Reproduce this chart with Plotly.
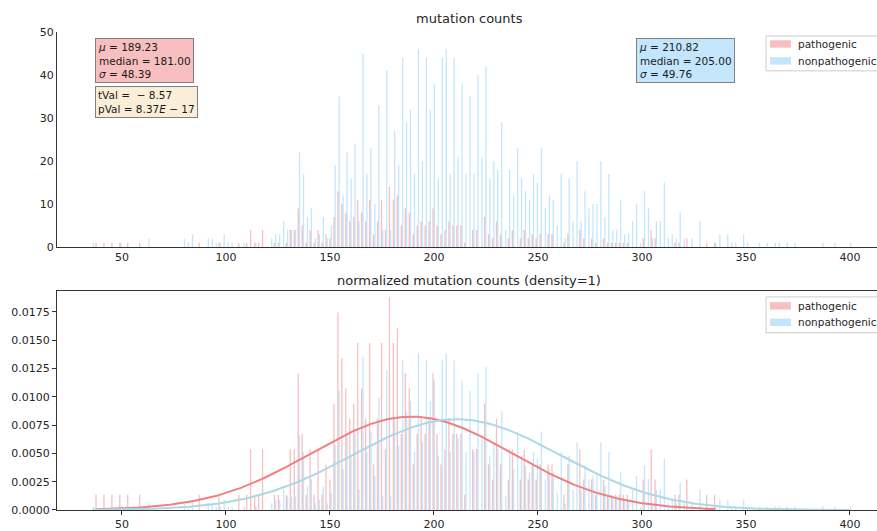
import numpy as np
import plotly.graph_objects as go

# ---------------- data ----------------
# histogram bins (192 bins over the mutation-count range)
bin_edges = np.linspace(35.0, 401.0, 193)

pathogenic_counts = [
    0, 1, 0, 1, 0, 1, 0, 1, 0, 1,
    0, 0, 1, 0, 0, 0, 0, 0, 0, 0,
    0, 0, 0, 0, 0, 0, 0, 1, 0, 0,
    0, 0, 1, 0, 0, 0, 0, 1, 0, 1,
    4, 1, 1, 4, 0, 0, 1, 1, 0, 1,
    4, 4, 9, 5, 1, 4, 1, 4, 1, 3,
    2, 7, 13, 10, 8, 6, 7, 11, 8, 6,
    11, 3, 6, 11, 4, 14, 11, 12, 5, 9,
    8, 3, 5, 6, 5, 6, 9, 5, 3, 4,
    6, 5, 5, 5, 1, 0, 4, 4, 0, 7,
    3, 2, 6, 3, 0, 2, 4, 0, 2, 4,
    2, 3, 2, 3, 0, 3, 3, 0, 0, 1,
    3, 0, 0, 4, 2, 0, 2, 1, 0, 2,
    1, 1, 1, 1, 1, 1, 0, 0, 0, 2,
    0, 4, 2, 0, 0, 0, 0, 1, 1, 0,
    2, 0, 0, 0, 0, 1, 0, 1, 0, 0,
    0, 0, 0, 0, 0, 0, 0, 0, 0, 0,
    0, 0, 0, 0, 0, 0, 0, 0, 0, 0,
    0, 0, 0, 0, 0, 0, 0, 0, 0, 0,
    0, 0,
]

nonpathogenic_counts = [
    1, 0, 0, 0, 0, 0, 0, 1, 0, 0,
    0, 0, 0, 0, 2, 0, 0, 0, 0, 0,
    0, 0, 0, 2, 1, 3, 0, 0, 0, 2,
    2, 1, 1, 3, 1, 1, 0, 0, 1, 0,
    0, 1, 0, 0, 0, 2, 3, 3, 6, 4,
    4, 4, 22, 17, 7, 9, 2, 3, 7, 2,
    5, 19, 35, 12, 22, 16, 24, 6, 45, 17,
    23, 10, 33, 4, 41, 4, 27, 19, 44, 29,
    32, 17, 46, 20, 44, 32, 38, 16, 44, 46,
    17, 44, 21, 38, 17, 35, 17, 40, 21, 42,
    16, 20, 18, 29, 4, 18, 12, 23, 16, 13,
    11, 17, 15, 23, 9, 12, 11, 5, 17, 2,
    16, 6, 20, 6, 13, 9, 10, 10, 20, 7,
    17, 4, 4, 11, 3, 3, 6, 10, 1, 13,
    9, 2, 6, 6, 15, 2, 3, 2, 8, 2,
    0, 2, 0, 6, 0, 0, 0, 1, 3, 0,
    3, 1, 1, 0, 3, 1, 0, 0, 1, 0,
    1, 0, 1, 1, 0, 1, 0, 1, 0, 0,
    0, 0, 0, 0, 1, 0, 0, 1, 0, 0,
    0, 1,
]

series_names = ["pathogenic", "nonpathogenic"]
path_stats = {"mu": 189.23, "median": 181.00, "sigma": 48.39}
nonpath_stats = {"mu": 210.82, "median": 205.00, "sigma": 49.76}
t_val = -8.57
p_val_mantissa, p_val_exp = 8.37, -17

x_ticks = [50, 100, 150, 200, 250, 300, 350, 400]
y_ticks_top = [0, 10, 20, 30, 40, 50]
y_ticks_bottom = [0.0, 0.0025, 0.005, 0.0075, 0.01, 0.0125, 0.015, 0.0175]

# ---------------- derived ----------------
centers = 0.5 * (bin_edges[:-1] + bin_edges[1:])
bw = bin_edges[1] - bin_edges[0]
path = np.array(pathogenic_counts, dtype=float)
nonpath = np.array(nonpathogenic_counts, dtype=float)
path_dens = path / (path.sum() * bw)
nonpath_dens = nonpath / (nonpath.sum() * bw)


def fit_curve(counts, mu, sigma):
    nz = np.nonzero(counts)[0]
    xs = np.linspace(centers[nz[0]], centers[nz[-1]], 300)
    ys = np.exp(-0.5 * ((xs - mu) / sigma) ** 2) / (sigma * np.sqrt(2 * np.pi))
    return xs, ys


px_, py_ = fit_curve(path, path_stats["mu"], path_stats["sigma"])
nx_, ny_ = fit_curve(nonpath, nonpath_stats["mu"], nonpath_stats["sigma"])

C_PATH = "rgba(240,128,128,0.5)"
C_NON = "rgba(135,206,250,0.5)"
FONT = "DejaVu Sans"
TXT = "#262626"

# figure geometry (pixels) used to convert to paper coordinates
W, H = 877, 531
ML, MR, MT, MB = 57, 0, 32, 19
PW, PH = W - ML - MR, H - MT - MB


def pxx(p):
    return (p - ML) / PW


def pxy(p):
    return (H - MB - p) / PH


fig = go.Figure()
fig.add_trace(go.Bar(x=centers, y=path, name=series_names[0], marker_color=C_PATH,
                     marker_line_width=0, xaxis="x", yaxis="y"))
fig.add_trace(go.Bar(x=centers, y=nonpath, name=series_names[1], marker_color=C_NON,
                     marker_line_width=0, xaxis="x", yaxis="y"))
fig.add_trace(go.Bar(x=centers, y=path_dens, name=series_names[0], marker_color=C_PATH,
                     marker_line_width=0, xaxis="x2", yaxis="y2"))
fig.add_trace(go.Bar(x=centers, y=nonpath_dens, name=series_names[1], marker_color=C_NON,
                     marker_line_width=0, xaxis="x2", yaxis="y2"))
fig.add_trace(go.Scatter(x=px_, y=py_, mode="lines", line=dict(color="#f08080", width=2),
                         xaxis="x2", yaxis="y2", hoverinfo="skip"))
fig.add_trace(go.Scatter(x=nx_, y=ny_, mode="lines", line=dict(color="#add8e6", width=2),
                         xaxis="x2", yaxis="y2", hoverinfo="skip"))

XR = [18.8, 413.0]
axis_common = dict(showgrid=False, zeroline=False, linecolor="#333333", linewidth=1,
                   tickfont=dict(family=FONT, size=11, color=TXT))

fig.update_layout(
    width=W, height=H,
    margin=dict(l=ML, r=MR, t=MT, b=MB),
    paper_bgcolor="white", plot_bgcolor="white",
    barmode="group", bargap=0.35, bargroupgap=0.0,
    font=dict(family=FONT, size=11, color=TXT),
    showlegend=False,
    xaxis=dict(domain=[0, 1], range=XR, anchor="y", tickvals=x_ticks, showline=True,
               ticks="", **axis_common),
    yaxis=dict(domain=[pxy(248), 1.0], range=[0, 50], anchor="x", tickvals=y_ticks_top,
               showline=True, ticks="", **axis_common),
    xaxis2=dict(domain=[0, 1], range=XR, anchor="y2", tickvals=x_ticks, showline=True,
                mirror=True, ticks="outside", ticklen=4, tickcolor="#333333", **axis_common),
    yaxis2=dict(domain=[0, pxy(292)], range=[0, 0.01935], anchor="x2", tickvals=y_ticks_bottom,
                tickformat=".4f", showline=True, ticks="outside", ticklen=4,
                tickcolor="#333333", **axis_common),
)

ann_font = dict(family=FONT, size=10.5, color="#1a1a1a")
fig.add_annotation(
    x=37.0, y=48.6, xref="x", yref="y", xanchor="left", yanchor="top", align="left",
    text=(f"<i>μ</i> = {path_stats['mu']:.2f}<br>median = {path_stats['median']:.2f}"
          f"<br><i>σ</i> = {path_stats['sigma']:.2f}"),
    showarrow=False, bgcolor="rgba(240,128,128,0.5)", bordercolor="#808080",
    borderwidth=1, borderpad=2, font=ann_font)
fig.add_annotation(
    x=37.0, y=37.4, xref="x", yref="y", xanchor="left", yanchor="top", align="left",
    text=(f"tVal =  − {abs(t_val):.2f}<br>pVal = {p_val_mantissa:.2f}<i>E</i> − {abs(p_val_exp)}"),
    showarrow=False, bgcolor="rgba(245,222,179,0.5)", bordercolor="#808080",
    borderwidth=1, borderpad=2, font=ann_font)
fig.add_annotation(
    x=297.1, y=48.6, xref="x", yref="y", xanchor="left", yanchor="top", align="left",
    text=(f"<i>μ</i> = {nonpath_stats['mu']:.2f}<br>median = {nonpath_stats['median']:.2f}"
          f"<br><i>σ</i> = {nonpath_stats['sigma']:.2f}"),
    showarrow=False, bgcolor="rgba(135,206,250,0.5)", bordercolor="#808080",
    borderwidth=1, borderpad=2, font=ann_font)

fig.add_annotation(x=217.0, y=pxy(18), xref="x", yref="paper", text="mutation counts",
                   showarrow=False, xanchor="center", yanchor="middle",
                   font=dict(family=FONT, size=13, color=TXT))
fig.add_annotation(x=217.0, y=pxy(282), xref="x", yref="paper",
                   text="normalized mutation counts (density=1)",
                   showarrow=False, xanchor="center", yanchor="middle",
                   font=dict(family=FONT, size=13, color=TXT))

# legends drawn manually (the legend box runs into the right edge in the original figure)
legend_boxes = [(36, 71, [44, 61]), (298, 334, [307, 323.5])]
patch_colors = [C_PATH, C_NON]
for top, bottom, rows in legend_boxes:
    fig.add_shape(type="rect", xref="paper", yref="paper",
                  x0=pxx(766), x1=pxx(895), y0=pxy(bottom), y1=pxy(top),
                  fillcolor="rgba(255,255,255,0.85)", line=dict(color="#cccccc", width=1),
                  layer="above")
    for name, col, yc in zip(series_names, patch_colors, rows):
        fig.add_shape(type="rect", xref="paper", yref="paper",
                      x0=pxx(770), x1=pxx(791), y0=pxy(yc + 3.7), y1=pxy(yc - 3.7),
                      fillcolor=col, line=dict(width=0), layer="above")
        fig.add_annotation(x=pxx(796), y=pxy(yc), xref="paper", yref="paper", text=name,
                           showarrow=False, xanchor="left", yanchor="middle",
                           font=dict(family=FONT, size=10.5, color=TXT))

fig.write_html("out.html")
